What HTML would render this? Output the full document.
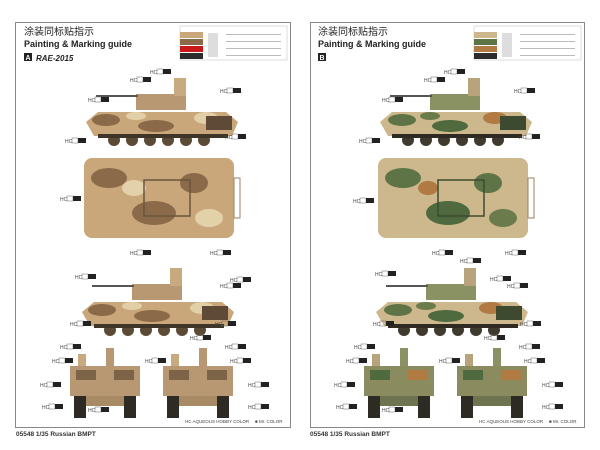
<!DOCTYPE html>
<html><head><meta charset="utf-8"><style>
html,body{margin:0;padding:0;background:#fff;}
svg{display:block}
</style></head><body>
<svg width="600" height="450" viewBox="0 0 600 450" xmlns="http://www.w3.org/2000/svg" font-family="Liberation Sans, Noto Sans CJK SC, sans-serif">
<defs>
 <clipPath id="sideHull"><path d="M0,22 L12,12 L140,12 L152,22 L146,36 L8,36 Z"/></clipPath>
 <clipPath id="topHull"><rect x="0" y="0" width="150" height="80" rx="8"/></clipPath>
 <g id="sideD">
  <path d="M0,22 L12,12 L140,12 L152,22 L146,36 L8,36 Z" fill="#c9a77a"/>
  <g clip-path="url(#sideHull)"><ellipse cx="20" cy="20" rx="14" ry="6" fill="#8a6a48"/><ellipse cx="70" cy="26" rx="18" ry="6" fill="#8a6a48"/><ellipse cx="120" cy="18" rx="12" ry="6" fill="#e2cfa8"/><ellipse cx="50" cy="16" rx="10" ry="4" fill="#e2cfa8"/></g>
  <rect x="120" y="16" width="26" height="14" fill="#5e4a36"/>
  <g fill="#5a4a36"><circle cx="28" cy="40" r="6"/><circle cx="46" cy="40" r="6"/><circle cx="64" cy="40" r="6"/><circle cx="82" cy="40" r="6"/><circle cx="100" cy="40" r="6"/><circle cx="118" cy="40" r="6"/></g>
  <rect x="12" y="34" width="130" height="4" fill="#3e3428"/>
  <rect x="50" y="-6" width="50" height="16" fill="#b89872"/><rect x="88" y="-22" width="12" height="18" fill="#c8aa80"/>
  <rect x="10" y="-5" width="42" height="2" fill="#555"/>
 </g>
 <g id="topD">
  <rect x="0" y="0" width="150" height="80" rx="8" fill="#c9a77a"/>
  <g clip-path="url(#topHull)"><ellipse cx="25" cy="20" rx="18" ry="10" fill="#8a6a48"/><ellipse cx="70" cy="55" rx="22" ry="12" fill="#8a6a48"/><ellipse cx="110" cy="25" rx="14" ry="10" fill="#8a6a48"/><ellipse cx="50" cy="30" rx="12" ry="8" fill="#e3d1aa"/><ellipse cx="125" cy="60" rx="14" ry="9" fill="#e3d1aa"/></g>
  <rect x="60" y="22" width="46" height="36" fill="none" stroke="#6a553c" stroke-width="1.5"/>
  <rect x="150" y="20" width="6" height="40" fill="none" stroke="#9a8060" stroke-width="1"/>
 </g>
 <g id="sideG">
  <path d="M0,22 L12,12 L140,12 L152,22 L146,36 L8,36 Z" fill="#cdb88e"/>
  <g clip-path="url(#sideHull)"><ellipse cx="22" cy="20" rx="14" ry="6" fill="#5f7446"/><ellipse cx="70" cy="26" rx="18" ry="6" fill="#4e6a3e"/><ellipse cx="115" cy="18" rx="12" ry="6" fill="#b07a42"/><ellipse cx="50" cy="16" rx="10" ry="4" fill="#6b7c4c"/></g>
  <rect x="120" y="16" width="26" height="14" fill="#3e4a30"/>
  <g fill="#3e3a2e"><circle cx="28" cy="40" r="6"/><circle cx="46" cy="40" r="6"/><circle cx="64" cy="40" r="6"/><circle cx="82" cy="40" r="6"/><circle cx="100" cy="40" r="6"/><circle cx="118" cy="40" r="6"/></g>
  <rect x="12" y="34" width="130" height="4" fill="#2f2a22"/>
  <rect x="50" y="-6" width="50" height="16" fill="#8a9264"/><rect x="88" y="-22" width="12" height="18" fill="#b8a47c"/>
  <rect x="10" y="-5" width="42" height="2" fill="#555"/>
 </g>
 <g id="topG">
  <rect x="0" y="0" width="150" height="80" rx="8" fill="#cdb88e"/>
  <g clip-path="url(#topHull)"><ellipse cx="25" cy="20" rx="18" ry="10" fill="#5f7446"/><ellipse cx="70" cy="55" rx="22" ry="12" fill="#4e6a3e"/><ellipse cx="110" cy="25" rx="14" ry="10" fill="#5f7446"/><ellipse cx="50" cy="30" rx="10" ry="7" fill="#b07a42"/><ellipse cx="125" cy="60" rx="14" ry="9" fill="#6b7c4c"/></g>
  <rect x="60" y="22" width="46" height="36" fill="none" stroke="#3c4a2e" stroke-width="1.5"/>
  <rect x="150" y="20" width="6" height="40" fill="none" stroke="#9a8060" stroke-width="1"/>
 </g>
 <g id="frontD">
  <rect x="6" y="2" width="8" height="14" fill="#c8aa80"/><rect x="34" y="-4" width="8" height="18" fill="#b89872"/>
  <rect x="-2" y="14" width="70" height="30" fill="#b89872"/><rect x="4" y="18" width="20" height="10" fill="#7d6448"/><rect x="42" y="18" width="20" height="10" fill="#7d6448"/>
  <rect x="2" y="44" width="12" height="22" fill="#2e2a24"/><rect x="52" y="44" width="12" height="22" fill="#2e2a24"/>
  <rect x="14" y="44" width="38" height="10" fill="#a88a64"/>
 </g>
 <g id="frontG">
  <rect x="6" y="2" width="8" height="14" fill="#b8a47c"/><rect x="34" y="-4" width="8" height="18" fill="#8a9264"/>
  <rect x="-2" y="14" width="70" height="30" fill="#8a8c60"/><rect x="4" y="18" width="20" height="10" fill="#4e6a3e"/><rect x="42" y="18" width="20" height="10" fill="#b07a42"/>
  <rect x="2" y="44" width="12" height="22" fill="#2e2a24"/><rect x="52" y="44" width="12" height="22" fill="#2e2a24"/>
  <rect x="14" y="44" width="38" height="10" fill="#6e7450"/>
 </g>
 <g id="lbl"><text x="0" y="3" font-size="5" fill="#444">HC</text><rect x="7" y="-2" width="6" height="5" fill="none" stroke="#666" stroke-width="0.5"/><rect x="13" y="-2" width="8" height="5" fill="#222"/></g>
</defs>

<!-- LEFT PANEL -->
<rect x="15.5" y="22.5" width="275" height="405" fill="#fff" stroke="#888" stroke-width="1"/>
<text x="24" y="35" font-size="10" fill="#222">涂装同标贴指示</text>
<text x="24" y="47" font-size="9" font-weight="bold" fill="#222">Painting &amp; Marking guide</text>
<rect x="24" y="53" width="8" height="8" fill="#222"/><text x="25.5" y="60" font-size="7" font-weight="bold" fill="#fff">A</text>
<text x="36" y="61" font-size="8" font-weight="bold" font-style="italic" fill="#222">RAE-2015</text>
<g stroke="#aaa" stroke-width="0.4" fill="none"><rect x="180" y="26" width="107" height="34"/></g>
<rect x="180" y="32" width="23" height="6" fill="#c9a77a"/><rect x="180" y="39" width="23" height="6" fill="#8a6a48"/><rect x="180" y="46" width="23" height="6" fill="#c81818"/><rect x="180" y="53" width="23" height="6" fill="#2c2c2c"/>
<g fill="#bbb"><rect x="208" y="33" width="10" height="24" opacity=".5"/><rect x="226" y="34" width="55" height="1"/><rect x="226" y="41" width="55" height="1"/><rect x="226" y="48" width="55" height="1"/><rect x="226" y="55" width="55" height="1"/></g>
<use href="#sideD" x="86" y="100"/>
<use href="#topD" x="84" y="158"/>
<use href="#sideD" x="82" y="290"/>
<use href="#frontD" x="72" y="352"/>
<use href="#frontD" x="165" y="352"/>
<g><use href="#lbl" x="150" y="71"/><use href="#lbl" x="130" y="79"/><use href="#lbl" x="88" y="99"/><use href="#lbl" x="220" y="90"/><use href="#lbl" x="65" y="140"/><use href="#lbl" x="225" y="136"/><use href="#lbl" x="60" y="198"/><use href="#lbl" x="130" y="252"/><use href="#lbl" x="210" y="252"/><use href="#lbl" x="75" y="276"/><use href="#lbl" x="230" y="279"/><use href="#lbl" x="220" y="285"/><use href="#lbl" x="70" y="323"/><use href="#lbl" x="215" y="323"/><use href="#lbl" x="60" y="346"/><use href="#lbl" x="52" y="360"/><use href="#lbl" x="145" y="360"/><use href="#lbl" x="230" y="360"/><use href="#lbl" x="190" y="337"/><use href="#lbl" x="225" y="346"/><use href="#lbl" x="40" y="384"/><use href="#lbl" x="248" y="384"/><use href="#lbl" x="42" y="406"/><use href="#lbl" x="88" y="409"/><use href="#lbl" x="248" y="406"/></g>
<text x="185" y="423" font-size="4.5" fill="#444">HC AQUEOUS HOBBY COLOR</text><text x="255" y="423" font-size="4.5" fill="#444">■ Mr. COLOR</text>
<text x="16" y="436" font-size="6.5" font-weight="bold" fill="#333">05548  1/35 Russian BMPT</text>

<!-- RIGHT PANEL -->
<rect x="310.5" y="22.5" width="274" height="405" fill="#fff" stroke="#888" stroke-width="1"/>
<text x="318" y="35" font-size="10" fill="#222">涂装同标贴指示</text>
<text x="318" y="47" font-size="9" font-weight="bold" fill="#222">Painting &amp; Marking guide</text>
<rect x="318" y="53" width="8" height="8" fill="#222"/><text x="319.5" y="60" font-size="7" font-weight="bold" fill="#fff">B</text>
<g stroke="#aaa" stroke-width="0.4" fill="none"><rect x="474" y="26" width="107" height="34"/></g>
<rect x="474" y="32" width="23" height="6" fill="#cdb88e"/><rect x="474" y="39" width="23" height="6" fill="#5f7446"/><rect x="474" y="46" width="23" height="6" fill="#b07a42"/><rect x="474" y="53" width="23" height="6" fill="#2c2c2c"/>
<g fill="#bbb"><rect x="502" y="33" width="10" height="24" opacity=".5"/><rect x="520" y="34" width="55" height="1"/><rect x="520" y="41" width="55" height="1"/><rect x="520" y="48" width="55" height="1"/><rect x="520" y="55" width="55" height="1"/></g>
<use href="#sideG" x="380" y="100"/>
<use href="#topG" x="378" y="158"/>
<use href="#sideG" x="376" y="290"/>
<use href="#frontG" x="366" y="352"/>
<use href="#frontG" x="459" y="352"/>
<g><use href="#lbl" x="444" y="71"/><use href="#lbl" x="424" y="79"/><use href="#lbl" x="382" y="99"/><use href="#lbl" x="514" y="90"/><use href="#lbl" x="359" y="140"/><use href="#lbl" x="519" y="136"/><use href="#lbl" x="353" y="200"/><use href="#lbl" x="432" y="252"/><use href="#lbl" x="505" y="252"/><use href="#lbl" x="375" y="273"/><use href="#lbl" x="460" y="260"/><use href="#lbl" x="490" y="278"/><use href="#lbl" x="507" y="285"/><use href="#lbl" x="373" y="323"/><use href="#lbl" x="520" y="323"/><use href="#lbl" x="354" y="346"/><use href="#lbl" x="346" y="360"/><use href="#lbl" x="439" y="360"/><use href="#lbl" x="524" y="360"/><use href="#lbl" x="484" y="337"/><use href="#lbl" x="519" y="346"/><use href="#lbl" x="334" y="384"/><use href="#lbl" x="542" y="384"/><use href="#lbl" x="336" y="406"/><use href="#lbl" x="382" y="409"/><use href="#lbl" x="542" y="406"/></g>
<text x="479" y="423" font-size="4.5" fill="#444">HC AQUEOUS HOBBY COLOR</text><text x="549" y="423" font-size="4.5" fill="#444">■ Mr. COLOR</text>
<text x="310" y="436" font-size="6.5" font-weight="bold" fill="#333">05548  1/35 Russian BMPT</text>
</svg>
</body></html>
